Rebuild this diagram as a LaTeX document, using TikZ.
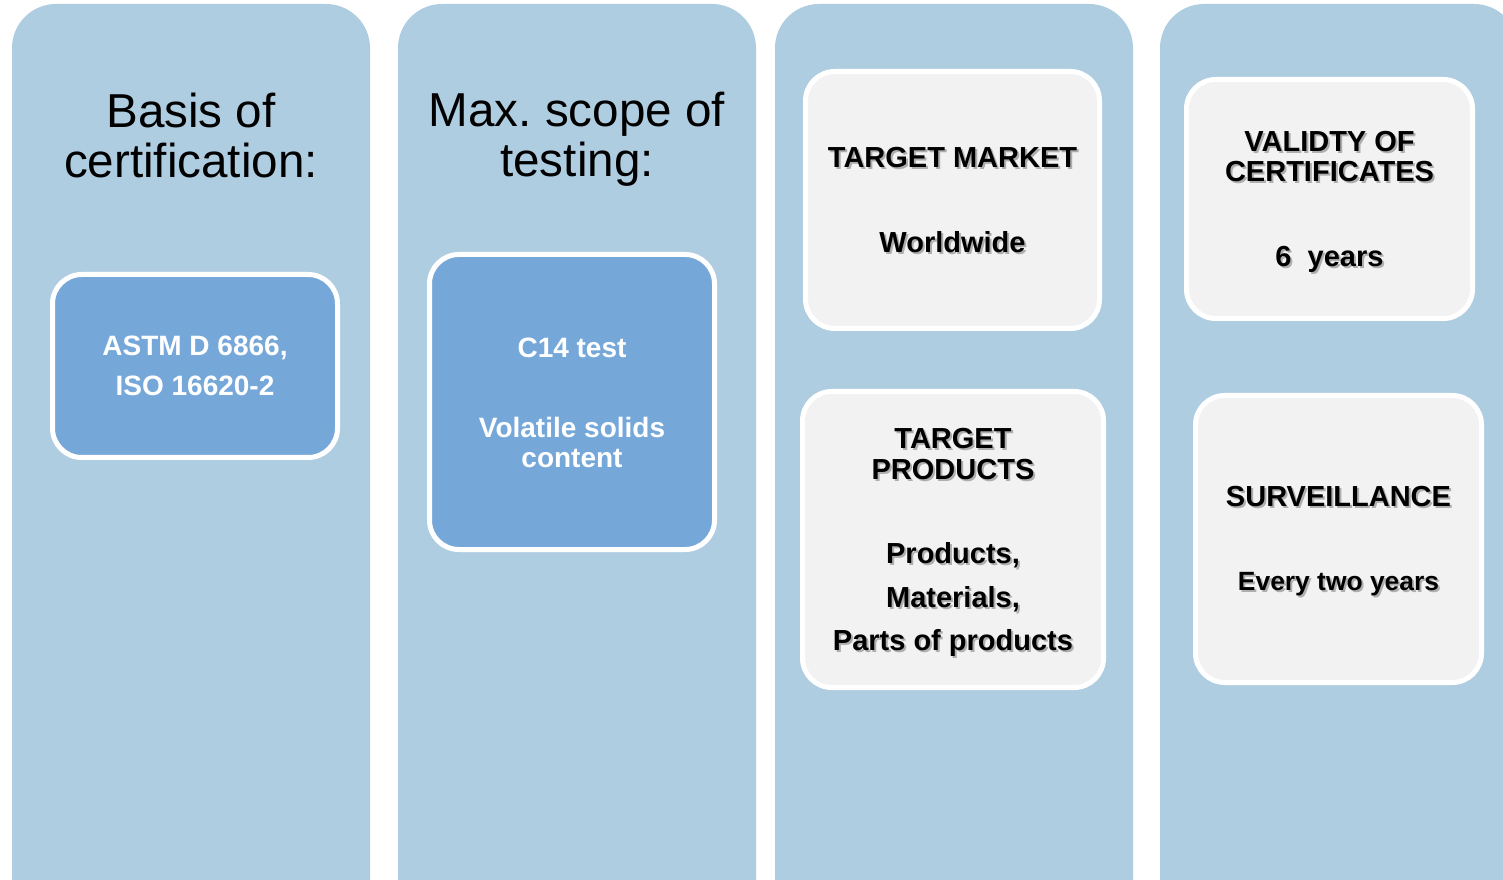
\documentclass[tikz,border=0pt]{standalone}
\usepackage{fontspec}
\setmainfont{Liberation Sans}
\frenchspacing
\definecolor{colfill}{RGB}{175,205,225}
\definecolor{bluebox}{RGB}{117,168,217}
\definecolor{graybox}{RGB}{242,242,242}
\newcommand\shadowedtext[4]{%
  \node[txtshadow] (#1s) at ([shift={(2,#3+2)}]#2) {#4};
  \node[txtblack] (#1) at ([shift={(0,#3)}]#2) {#4};}
\begin{document}
\begin{tikzpicture}[x=0.75pt,y=-0.75pt,
  colbox/.style={fill=colfill, rounded corners=33pt},
  bluecard/.style={draw=white, line width=3.75pt, fill=bluebox, rounded corners=22pt, inner sep=0pt},
  graycard/.style={draw=white, line width=3.75pt, fill=graybox, rounded corners=22pt, inner sep=0pt},
  title/.style={font=\fontsize{35.7}{37.5}\selectfont, align=center, text=black},
  txtwhite/.style={font=\bfseries\fontsize{21}{22.5}\selectfont, align=center, text=white},
  txtblack/.style={font=\bfseries\fontsize{21.75}{23}\selectfont, align=center, text=black},
  txtshadow/.style={font=\bfseries\fontsize{21.75}{23}\selectfont, align=center, text=black, opacity=0.28}
]
\useasboundingbox (0,0) rectangle (1503,880);
\clip (0,0) rectangle (1503,880);
\fill[white] (0,0) rectangle (1503,880);
% columns
\fill[colbox] (12,4) rectangle (370,960);
\fill[colbox] (398,4) rectangle (756,960);
\fill[colbox] (775,4) rectangle (1133,960);
\fill[colbox] (1160,4) rectangle (1518,960);
% titles
\node[title] (t1) at (191,135) {Basis of\\certification:};
\node[title] (t2) at (577,139) {Max. scope of\\testing:};
% cards
\node[bluecard, minimum width=213.75pt, minimum height=137.25pt] (A) at (195,366) {};
\node[bluecard, minimum width=213.75pt, minimum height=221.25pt] (B) at (572,402) {};
\node[graycard, minimum width=220.5pt, minimum height=192.75pt] (C) at (952.5,200) {};
\node[graycard, minimum width=225.75pt, minimum height=222pt] (D) at (953,539.5) {};
\node[graycard, minimum width=214.5pt, minimum height=179.25pt] (E) at (1329.5,199) {};
\node[graycard, minimum width=214.5pt, minimum height=215.25pt] (F) at (1338.5,539) {};
% texts
\node[txtwhite, font=\bfseries\fontsize{21}{30}\selectfont] (At) at (A.center) {ASTM D 6866,\\ISO 16620-2};
\node[txtwhite] (Bt) at ([shift={(0,1)}]B.center) {C14 test\\[37.5pt]Volatile solids\\content};
\shadowedtext{Ct}{C.center}{0}{TARGET MARKET\\[40.75pt]Worldwide}
\shadowedtext{Dt}{D.center}{3}{TARGET\\PRODUCTS\\[40pt]Products,\\[10pt]Materials,\\[9pt]Parts of products}
\shadowedtext{Et}{E.center}{3}{VALIDTY OF\\CERTIFICATES\\[40.75pt]6~~years}
\shadowedtext{Ft}{F.center}{2.5}{SURVEILLANCE\\[40pt]{\fontsize{19.8}{23}\selectfont Every two years}}
\end{tikzpicture}
\end{document}
